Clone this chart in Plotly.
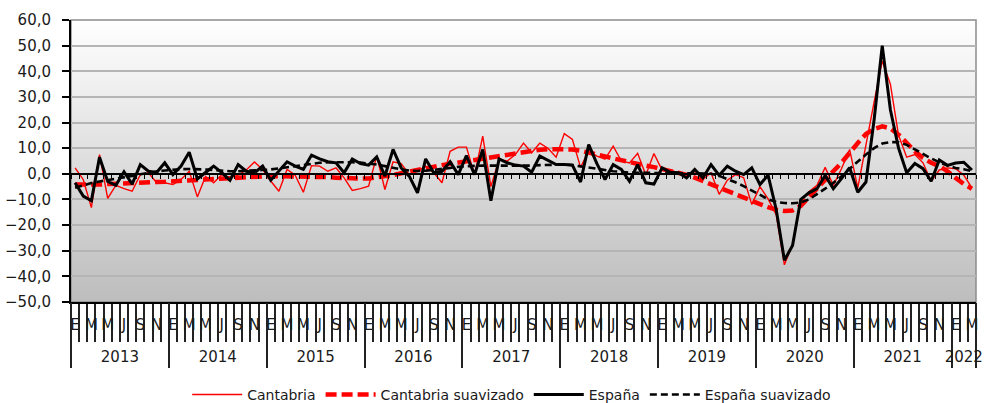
import base64
import plotly.graph_objects as go

# ---------------- data ----------------
years = ["2013", "2014", "2015", "2016", "2017", "2018", "2019", "2020", "2021", "2022"]
month_initials = ["E", "F", "M", "A", "M", "J", "J", "A", "S", "O", "N", "D"]

cantabria = [
    2.3, -2.2, -13.2, 7.5, -9.6, -4.5, -5.8, -6.8, -0.3, 0.4, -3.5, -3.5,
    -4.2, -2.2, 1.0, -9.0, -1.0, -3.5, -0.3, -1.5, -0.5, 1.5, 4.6, 1.7,
    -2.8, -6.8, 1.7, -0.5, -7.2, 3.2, 3.0, 1.0, 2.3, -1.6, -6.5, -5.8,
    -4.8, 6.9, -6.1, 4.7, 4.0, -0.3, 1.0, 3.0, 0.4, -3.5, 8.8, 10.4,
    10.4, -0.3, 14.7, -5.0, 5.6, 5.0, 7.5, 12.0, 8.2, 12.0, 10.0, 6.5,
    15.7, 13.4, 2.5, 9.0, 6.9, 5.7, 10.8, 5.0, 4.2, 8.0, -0.5, 7.9,
    1.5, 1.5, 0.4, -1.0, 1.0, -2.2, 0.4, -8.0, -2.5, -0.3, -1.5, -12.0,
    -5.0, -9.8, -16.0, -35.5, -27.5, -11.0, -7.0, -4.5, 2.5, -4.5, 2.0, 9.5,
    -5.5, 12.0, 28.0, 44.0, 35.0, 15.0, 6.5, 7.5, 4.3, -2.9, 1.5, 2.3,
    2.0, -0.5, -5.5,
]

cantabria_suav = [
    -4.2, -4.3, -4.3, -4.2, -4.0, -3.8, -3.6, -3.5, -3.4, -3.3, -3.2, -3.1,
    -3.0, -2.8, -2.6, -2.4, -2.2, -2.0, -1.8, -1.6, -1.4, -1.2, -1.0, -0.9,
    -0.9, -0.9, -0.9, -1.0, -1.0, -1.1, -1.2, -1.3, -1.5, -1.7, -1.8, -1.9,
    -1.8, -1.5, -1.0, -0.5, 0.2, 0.9, 1.6, 2.3, 2.9, 3.4, 3.9, 4.4,
    5.0, 5.6, 6.2, 6.6, 7.0, 7.5, 8.2, 8.8, 9.2, 9.4, 9.6, 9.7,
    9.7, 9.5, 9.0, 8.4, 7.6, 6.8, 6.0, 5.2, 4.5, 3.8, 3.2, 2.6,
    1.9, 1.2, 0.5, -0.4, -1.5, -2.8, -4.3, -5.7, -7.0, -8.2, -9.3, -10.5,
    -11.8, -13.0, -14.0, -14.5, -14.3, -12.5, -9.0, -5.5, -2.0, 1.0, 4.3, 8.5,
    12.0, 15.5, 17.5, 18.5, 17.7, 15.3, 12.0, 8.8, 6.2, 4.3, 3.0, 1.0,
    -1.6, -4.0, -5.8,
]

espana = [
    -3.5, -8.7, -10.5, 6.5, -3.0, -4.5, 0.8, -4.0, 3.6, 1.0, 0.5, 4.3,
    -0.3, 3.0, 8.4, -2.0, 0.5, 3.0, 0.5, -2.5, 3.6, 1.0, 0.4, 3.0,
    -2.5, 1.0, 4.7, 3.0, 1.7, 7.3, 5.8, 4.7, 4.3, 0.4, 5.8, 4.0,
    3.4, 6.6, -0.9, 9.5, 2.3, -1.0, -7.4, 5.8, 0.4, 1.0, 4.7, -0.3,
    7.1, -0.3, 9.5, -10.5, 5.8, 4.3, 3.4, 3.0, 0.6, 6.9, 5.3, 3.6,
    3.6, 3.4, -3.2, 11.4, 4.0, -2.2, 3.6, 1.7, -2.9, 3.6, -3.5, -4.0,
    2.3, 0.6, 0.4, -1.6, 1.7, -1.6, 3.6, -0.6, 3.0, 1.0, -0.3, 2.3,
    -4.2, -0.5, -14.0, -33.7, -28.0, -10.0, -7.4, -5.8, -0.6, -5.8, -1.9, 2.4,
    -7.2, -3.2, 21.0, 50.0, 25.0, 10.0, 0.4, 4.0, 2.0, -2.9, 5.4, 3.3,
    4.2, 4.5, 1.5,
]

espana_suav = [
    -5.4, -4.5, -3.6, -3.0, -2.5, -2.0, -1.4, -0.8, -0.2, 0.4, 0.9, 1.3,
    1.6, 1.8, 1.9, 1.9, 1.7, 1.5, 1.2, 1.0, 1.0, 1.1, 1.3, 1.5,
    1.7, 2.1, 2.6, 3.1, 3.6, 4.0, 4.3, 4.5, 4.6, 4.6, 4.5, 4.4,
    4.1, 3.6, 3.0, 2.3, 1.7, 1.3, 1.1, 1.2, 1.5, 1.9, 2.3, 2.7,
    3.0, 3.1, 3.2, 3.2, 3.1, 3.0, 3.0, 3.1, 3.2, 3.4, 3.5, 3.6,
    3.6, 3.4, 3.0, 2.5, 2.0, 1.5, 1.0, 0.7, 0.5, 0.4, 0.4, 0.4,
    0.4, 0.4, 0.4, 0.3, 0.2, 0.1, 0.0, -0.8, -2.0, -3.3, -4.8, -6.5,
    -8.4, -9.9, -11.0, -11.4, -11.5, -11.2, -10.0, -8.0, -5.8, -3.5, -1.0, 2.0,
    4.8, 7.5, 10.0, 11.8, 12.4, 12.3, 11.3, 9.5, 7.8, 6.0, 4.5, 3.2,
    2.3, 1.8, 1.0,
]

y_ticks = [-50, -40, -30, -20, -10, 0, 10, 20, 30, 40, 50, 60]

# ---------------- derived helpers ----------------
n = len(cantabria)
x = list(range(n))
month_bounds = [i - 0.5 for i in range(n + 1)]
letter_vals = [i for i in x if i % 2 == 0]
letter_text = [month_initials[i % 12] for i in letter_vals]
year_centers = [(12 * k + min(12 * k + 11, n - 1)) / 2 for k in range(len(years))]
year_bounds = [12 * k - 0.5 for k in range(len(years))] + [n - 0.5]
y_min, y_max = y_ticks[0], y_ticks[-1]
xr = [-0.5, n - 0.5]
FONT = "DejaVu Sans"

fig = go.Figure()
fig.add_trace(go.Scatter(x=x, y=cantabria, name="Cantabria", mode="lines",
                         line=dict(color="#ff0000", width=1.4)))
fig.add_trace(go.Scatter(x=x, y=cantabria_suav, name="Cantabria suavizado", mode="lines",
                         line=dict(color="#ff0000", width=4.5, dash="11px,5px")))
fig.add_trace(go.Scatter(x=x, y=espana, name="España", mode="lines",
                         line=dict(color="#000000", width=3)))
fig.add_trace(go.Scatter(x=x, y=espana_suav, name="España suavizado", mode="lines",
                         line=dict(color="#000000", width=2.6, dash="7px,4px")))
# helper (empty) traces so overlay axes are drawn
for ax in ["x2", "x3", "x4"]:
    fig.add_trace(go.Scatter(x=[0], y=[None], xaxis=ax, yaxis="y", showlegend=False,
                             hoverinfo="skip", mode="lines"))

# gradient background image
svg = ('<svg xmlns="http://www.w3.org/2000/svg" width="100" height="100" viewBox="0 0 100 100" '
       'preserveAspectRatio="none"><defs><linearGradient id="g" x1="0" y1="0" x2="0" y2="1">'
       '<stop offset="0" stop-color="#ffffff"/><stop offset="1" stop-color="#bdbdbd"/>'
       '</linearGradient></defs><rect width="100" height="100" fill="url(#g)"/></svg>')
src = "data:image/svg+xml;base64," + base64.b64encode(svg.encode()).decode()

fig.update_layout(
    width=984, height=403, autosize=False,
    margin=dict(l=71, r=8, t=20, b=101, autoexpand=False),
    paper_bgcolor="white", plot_bgcolor="rgba(0,0,0,0)",
    separators=",.",
    font=dict(family=FONT, size=15, color="#1a1a1a"),
    showlegend=True,
    legend=dict(orientation="h", xref="container", yref="container",
                x=0.52, xanchor="center", y=0.02, yanchor="middle",
                font=dict(size=14, family=FONT, color="#1a1a1a"), bgcolor="rgba(0,0,0,0)",
                itemwidth=50),
    images=[dict(source=src, xref="paper", yref="paper", x=0, y=1, sizex=1, sizey=1,
                 xanchor="left", yanchor="top", sizing="stretch", layer="below")],
    shapes=[dict(type="rect", xref="paper", yref="paper", x0=0, x1=1, y0=0, y1=1,
                 line=dict(color="#8c8c8c", width=1.5), layer="below")],
    yaxis=dict(range=[y_min, y_max], tickvals=y_ticks, tickformat=".1f", automargin=False,
               showgrid=True, gridcolor="#b5b5b5", gridwidth=1.5, zeroline=False,
               showline=True, linecolor="#000000", linewidth=2,
               ticks="outside", ticklen=7, tickcolor="#000000", tickwidth=1.5,
               ticklabelstandoff=8, tickfont=dict(size=15)),
    xaxis=dict(range=xr, showgrid=False, zeroline=False, showline=True, automargin=False,
               linecolor="#000000", linewidth=2, tickvals=month_bounds,
               ticks="outside", ticklen=38, tickcolor="#222222", tickwidth=1.5,
               showticklabels=False),
    # zero line with small ticks
    xaxis2=dict(overlaying="x", anchor="free", position=(0 - y_min) / (y_max - y_min),
                side="bottom", range=xr, showgrid=False, zeroline=False, automargin=False,
                showline=True, linecolor="#000000", linewidth=1.5,
                tickvals=month_bounds, ticks="outside", ticklen=4,
                tickcolor="#000000", tickwidth=1.2, showticklabels=False),
    # month initials
    xaxis3=dict(overlaying="x", anchor="free", position=0, side="bottom", range=xr,
                showgrid=False, zeroline=False, showline=False, ticks="", automargin=False,
                tickvals=letter_vals, ticktext=letter_text, tickangle=0,
                ticklabelstandoff=12, tickfont=dict(size=15, color="#1a1a1a")),
    # years
    xaxis4=dict(overlaying="x", anchor="free", position=0, side="bottom", range=xr,
                showgrid=False, zeroline=False, showline=False, ticks="", automargin=False,
                tickvals=year_centers, ticktext=years, tickangle=0,
                ticklabelstandoff=44, tickfont=dict(size=15, color="#1a1a1a"),
                minor=dict(tickmode="array", tickvals=year_bounds, ticks="outside",
                           ticklen=65, tickcolor="#222222", tickwidth=1.5, showgrid=False)),
)

fig.write_html("out.html", config={"displayModeBar": False},
               post_script="document.body.style.margin='0';document.body.style.overflow='hidden';")
